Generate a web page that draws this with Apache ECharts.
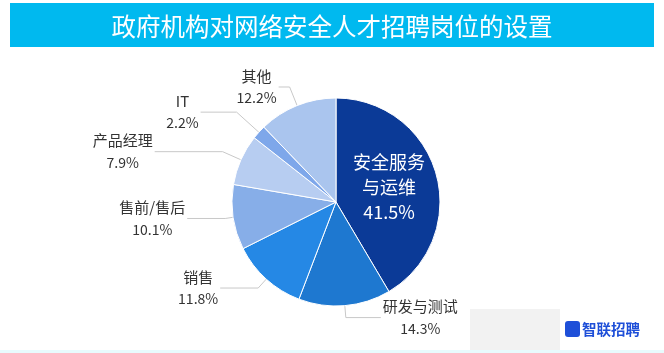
<!DOCTYPE html>
<html>
<head>
<meta charset="utf-8">
<script src="https://cdn.jsdelivr.net/npm/echarts@6/dist/echarts.min.js"></script>
<style>html,body{margin:0;padding:0;background:#fff}#c{width:664px;height:353px}</style>
</head>
<body>
<div id="c"></div>
<script>
const titleText = '政府机构对网络安全人才招聘岗位的设置';
const categories = ['安全服务\n与运维', '研发与测试', '销售', '售前/售后', '产品经理', 'IT', '其他'];
const values = [41.5, 14.3, 11.8, 10.1, 7.9, 2.2, 12.2];
const colors = ['#0B3A97', '#1E78D0', '#2588E5', '#87AEE8', '#B7CDF1', '#7EA7EA', '#AAC5EE'];
// label line styling per slice: [radial length, horizontal length]
const lineLengths = [[0, 0], [12, 35], [12, 38], [8, 38], [20, 68], [30, 36], [20, 11]];

const chart = echarts.init(document.getElementById('c'));
const font = '"Noto Sans CJK SC", "Noto Sans", sans-serif';
const data = categories.map((name, i) => {
  const d = {
    name, value: values[i], itemStyle: { color: colors[i] },
    labelLine: { length: lineLengths[i][0], length2: lineLengths[i][1] }
  };
  if (i === 0) {
    d.label = {
      position: 'inside',
      formatter: '{b}\n{c}%',
      color: '#fff',
      fontSize: 18,
      lineHeight: 25,
      align: 'center',
      rich: {}
    };
    d.labelLine = { show: false };
  }
  return d;
});
chart.setOption({
  animation: false,
  graphic: [
    { type: 'rect', shape: { x: 10, y: 3, width: 644, height: 44 }, style: { fill: '#00B9EF' } },
    { type: 'rect', shape: { x: 470, y: 309, width: 90, height: 44 }, style: { fill: '#F2F2F2' } },
    { type: 'rect', shape: { x: 0, y: 350, width: 664, height: 3 }, style: { fill: '#E8FBFD' } },
    { type: 'rect', shape: { x: 565, y: 321, width: 15, height: 16, r: 3 }, style: { fill: '#1E4FD8' } },
    { type: 'text', x: 582, y: 329, style: { text: '智联招聘', fill: '#1E4FD8', fontSize: 14.5, fontWeight: 'bold', fontFamily: font, verticalAlign: 'middle' } }
  ],
  title: {
    text: titleText,
    left: 'center',
    top: 9,
    textStyle: { color: '#fff', fontSize: 24.5, fontWeight: 'normal', fontFamily: font }
  },
  series: [{
    type: 'pie',
    center: [336, 202],
    radius: 104,
    startAngle: 90,
    clockwise: true,
    avoidLabelOverlap: false,
    data,
    itemStyle: { borderColor: '#fff', borderWidth: 1 },
    label: {
      formatter: '{n|{b}}\n{v|{c}%}',
      color: '#333',
      fontFamily: font,
      distanceToLabelLine: 2,
      rich: {
        n: { fontSize: 15, lineHeight: 22, align: 'center', color: '#333', fontFamily: font },
        v: { fontSize: 14, lineHeight: 22, align: 'center', color: '#333', fontFamily: font }
      }
    },
    labelLine: { lineStyle: { color: '#c8c8c8', width: 1 } }
  }]
});
</script>
</body>
</html>
